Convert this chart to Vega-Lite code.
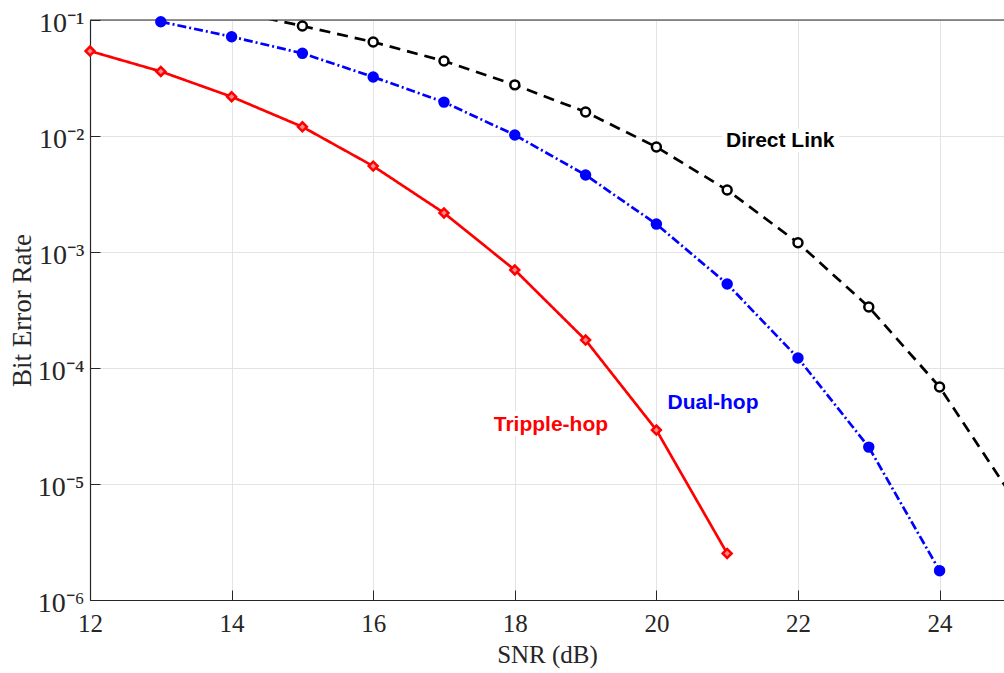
{
  "$schema": "https://vega.github.io/schema/vega-lite/v6.json",
  "width": 914,
  "height": 580,
  "autosize": {"type": "none"},
  "padding": {"left": 90, "top": 20, "right": 0, "bottom": 73},
  "background": "white",
  "config": {
    "view": {"stroke": null},
    "axis": {
      "labelFont": "Liberation Serif",
      "labelColor": "#262626",
      "titleFont": "Liberation Serif",
      "titleFontWeight": "normal",
      "titleColor": "#262626",
      "domainColor": "#262626",
      "domainWidth": 1.2,
      "tickColor": "#262626",
      "gridColor": "#e3e3e3",
      "gridWidth": 1,
      "labelFlush": false,
      "labelOverlap": false
    }
  },
  "datasets": {
    "ber": [
      {"series": "Tripple-hop", "snr": 12, "ber": 0.054},
      {"series": "Tripple-hop", "snr": 13, "ber": 0.036},
      {"series": "Tripple-hop", "snr": 14, "ber": 0.0218},
      {"series": "Tripple-hop", "snr": 15, "ber": 0.012},
      {"series": "Tripple-hop", "snr": 16, "ber": 0.0055},
      {"series": "Tripple-hop", "snr": 17, "ber": 0.00217},
      {"series": "Tripple-hop", "snr": 18, "ber": 0.0007},
      {"series": "Tripple-hop", "snr": 19, "ber": 0.000174},
      {"series": "Tripple-hop", "snr": 20, "ber": 0.0000292},
      {"series": "Tripple-hop", "snr": 21, "ber": 0.00000252},
      {"series": "Dual-hop", "snr": 13, "ber": 0.0967},
      {"series": "Dual-hop", "snr": 14, "ber": 0.0718},
      {"series": "Dual-hop", "snr": 15, "ber": 0.0516},
      {"series": "Dual-hop", "snr": 16, "ber": 0.0323},
      {"series": "Dual-hop", "snr": 17, "ber": 0.0196},
      {"series": "Dual-hop", "snr": 18, "ber": 0.0102},
      {"series": "Dual-hop", "snr": 19, "ber": 0.00461},
      {"series": "Dual-hop", "snr": 20, "ber": 0.00174},
      {"series": "Dual-hop", "snr": 21, "ber": 0.00053},
      {"series": "Dual-hop", "snr": 22, "ber": 0.000122},
      {"series": "Dual-hop", "snr": 23, "ber": 0.0000208},
      {"series": "Dual-hop", "snr": 24, "ber": 0.00000179},
      {"series": "Direct Link", "snr": 14, "ber": 0.12},
      {"series": "Direct Link", "snr": 15, "ber": 0.0888},
      {"series": "Direct Link", "snr": 16, "ber": 0.0646},
      {"series": "Direct Link", "snr": 17, "ber": 0.0443},
      {"series": "Direct Link", "snr": 18, "ber": 0.0276},
      {"series": "Direct Link", "snr": 19, "ber": 0.0161},
      {"series": "Direct Link", "snr": 20, "ber": 0.00804},
      {"series": "Direct Link", "snr": 21, "ber": 0.00342},
      {"series": "Direct Link", "snr": 22, "ber": 0.0012},
      {"series": "Direct Link", "snr": 23, "ber": 0.000336},
      {"series": "Direct Link", "snr": 24, "ber": 0.0000686},
      {"series": "Direct Link", "snr": 25, "ber": 0.0000082}
    ],
    "notes": [
      {"series": "Direct Link", "snr": 21.75, "ber": 0.00906, "label": "Direct Link"},
      {"series": "Dual-hop", "snr": 20.8, "ber": 0.0000499, "label": "Dual-hop"},
      {"series": "Tripple-hop", "snr": 18.51, "ber": 0.0000323, "label": "Tripple-hop"}
    ],
    "frame": [{"ber": 0.1}]
  },
  "layer": [
    {
      "data": {"name": "ber"},
      "mark": {"type": "line", "strokeWidth": 2.7, "clip": true},
      "encoding": {
        "x": {
          "field": "snr", "type": "quantitative",
          "scale": {"domain": [12, 24.91], "nice": false, "zero": false},
          "axis": {
            "values": [12, 14, 16, 18, 20, 22, 24],
            "format": "d",
            "title": "SNR (dB)",
            "titleFontSize": 25,
            "titlePadding": 6,
            "labelFontSize": 25,
            "tickSize": -10,
            "labelPadding": 21,
            "grid": true
          }
        },
        "y": {
          "field": "ber", "type": "quantitative",
          "scale": {"type": "log", "domain": [0.000001, 0.1], "nice": false},
          "axis": {
            "values": [0.000001, 0.00001, 0.0001, 0.001, 0.01, 0.1],
            "labelExpr": "'10' + ['⁻⁶','⁻⁵','⁻⁴','⁻³','⁻²','⁻¹'][round(log(datum.value)/LN10)+6]",
            "title": "Bit Error Rate",
            "titleFontSize": 27,
            "titlePadding": 1,
            "labelFontSize": 28,
            "labelOffset": 3,
            "tickSize": -10,
            "labelPadding": 16,
            "grid": true
          }
        },
        "color": {
          "field": "series", "type": "nominal",
          "scale": {"domain": ["Tripple-hop", "Dual-hop", "Direct Link"], "range": ["#ff0000", "#0000ff", "#000000"]},
          "legend": null
        },
        "strokeDash": {
          "field": "series", "type": "nominal",
          "scale": {"domain": ["Tripple-hop", "Dual-hop", "Direct Link"], "range": [[1, 0], [9, 3, 2, 3], [11, 7]]},
          "legend": null
        }
      }
    },
    {
      "data": {"name": "frame"},
      "mark": {"type": "rule", "color": "#262626", "strokeWidth": 1.2},
      "encoding": {
        "y": {"field": "ber", "type": "quantitative"}
      }
    },
    {
      "data": {"name": "ber"},
      "transform": [{"filter": "datum.ber <= 0.1 && datum.snr <= 24"}],
      "mark": {"type": "point", "filled": true, "strokeWidth": 2.5, "size": 80, "opacity": 1},
      "encoding": {
        "x": {"field": "snr", "type": "quantitative"},
        "y": {"field": "ber", "type": "quantitative"},
        "shape": {
          "field": "series", "type": "nominal",
          "scale": {"domain": ["Tripple-hop", "Dual-hop", "Direct Link"], "range": ["diamond", "circle", "circle"]},
          "legend": null
        },
        "stroke": {
          "field": "series", "type": "nominal",
          "scale": {"domain": ["Tripple-hop", "Dual-hop", "Direct Link"], "range": ["#ff0000", "#0000ff", "#000000"]},
          "legend": null
        },
        "fill": {
          "field": "series", "type": "nominal",
          "scale": {"domain": ["Tripple-hop", "Dual-hop", "Direct Link"], "range": ["#ff8a8a", "#0000ff", "#ffffff"]},
          "legend": null
        }
      }
    },
    {
      "data": {"name": "notes"},
      "mark": {"type": "text", "font": "Liberation Sans", "fontWeight": "bold", "fontSize": 21, "stroke": "white", "strokeWidth": 10, "fill": "white", "strokeJoin": "round"},
      "encoding": {
        "x": {"field": "snr", "type": "quantitative"},
        "y": {"field": "ber", "type": "quantitative"},
        "text": {"field": "label"}
      }
    },
    {
      "data": {"name": "notes"},
      "mark": {"type": "text", "font": "Liberation Sans", "fontWeight": "bold", "fontSize": 21},
      "encoding": {
        "x": {"field": "snr", "type": "quantitative"},
        "y": {"field": "ber", "type": "quantitative"},
        "text": {"field": "label"},
        "color": {"field": "series", "type": "nominal", "legend": null}
      }
    }
  ]
}
